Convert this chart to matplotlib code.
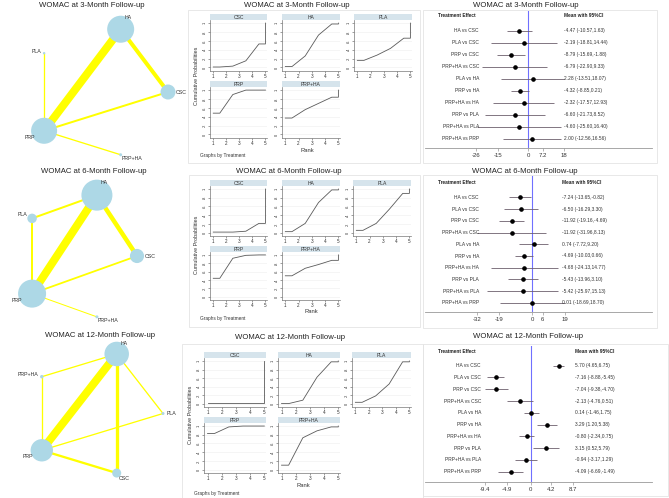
import numpy as np
import matplotlib
matplotlib.use("Agg")
import matplotlib.pyplot as plt
from matplotlib.patches import Rectangle, Circle

plt.rcParams['font.family'] = ['Liberation Sans', 'DejaVu Sans']

W, H, DPI = 669, 498, 100

# ---------------- data ----------------
titles = ["WOMAC at 3-Month Follow-up", "WOMAC at 6-Month Follow-up", "WOMAC at 12-Month Follow-up"]
treatments = ["CSC", "HA", "PLA", "PRP", "PRP+HA"]

# network: node order around the pentagon (clockwise from the right)
net_order_3m = ["CSC", "PRP+HA", "PRP", "PLA", "HA"]
net_order_6m = ["CSC", "PRP+HA", "PRP", "PLA", "HA"]
net_order_12m = ["PLA", "CSC", "PRP", "PRP+HA", "HA"]
# node weights (same order as treatments)
node_w_3m = [225, 729, 6, 676, 9]
node_w_6m = [200, 961, 90, 784, 9]
node_w_12m = [81, 600, 9, 500, 12]
# edges (a, b, weight)
edges_3m = [("HA", "PRP", 8), ("HA", "CSC", 4), ("PRP", "CSC", 2), ("PRP", "PLA", 1.3), ("PRP", "PRP+HA", 1.3)]
edges_6m = [("HA", "PRP", 8), ("HA", "CSC", 4.5), ("HA", "PLA", 2), ("PLA", "PRP", 2),
            ("PRP", "CSC", 1.8), ("PRP", "PRP+HA", 1)]
edges_12m = [("HA", "PRP", 8), ("HA", "CSC", 3.3), ("PRP", "CSC", 2.3), ("HA", "PLA", 1.3),
             ("PRP", "PLA", 1.3), ("HA", "PRP+HA", 1.3), ("PRP+HA", "PRP", 1.3)]

# cumulative ranking probabilities at ranks 1..5
cum_3m = {"CSC": [0.01, 0.03, 0.15, 0.53, 1.0], "HA": [0.02, 0.26, 0.73, 0.98, 1.0],
          "PLA": [0.16, 0.28, 0.43, 0.66, 1.0], "PRP": [0.48, 0.90, 1.0, 1.0, 1.0],
          "PRP+HA": [0.37, 0.56, 0.70, 0.84, 1.0]}
cum_6m = {"CSC": [0.01, 0.01, 0.03, 0.21, 1.0], "HA": [0.02, 0.21, 0.69, 0.98, 1.0],
          "PLA": [0.05, 0.21, 0.54, 0.90, 1.0], "PRP": [0.44, 0.92, 0.99, 1.0, 1.0],
          "PRP+HA": [0.50, 0.68, 0.77, 0.87, 1.0]}
cum_12m = {"CSC": [0.005, 0.005, 0.005, 0.005, 1.0], "HA": [0.0, 0.08, 0.62, 0.98, 1.0],
           "PLA": [0.03, 0.18, 0.46, 0.98, 1.0], "PRP": [0.83, 0.98, 1.0, 1.0, 1.0],
           "PRP+HA": [0.10, 0.73, 0.89, 0.98, 1.0]}
ranks = [1, 2, 3, 4, 5]

# forest plot
comparisons = ["HA vs CSC", "PLA vs CSC", "PRP vs CSC", "PRP+HA vs CSC", "PLA vs HA", "PRP vs HA",
               "PRP+HA vs HA", "PRP vs PLA", "PRP+HA vs PLA", "PRP+HA vs PRP"]
mean_3m = [-4.47, -2.19, -8.79, -6.79, 2.28, -4.32, -2.32, -6.60, -4.60, 2.00]
low_3m = [-10.57, -18.81, -15.69, -22.90, -13.51, -8.85, -17.57, -21.73, -25.60, -12.56]
high_3m = [1.63, 14.44, -1.88, 9.33, 18.07, 0.21, 12.93, 8.52, 16.40, 16.56]
mean_6m = [-7.24, -6.50, -11.92, -11.92, 0.74, -4.69, -4.68, -5.43, -5.42, 0.01]
low_6m = [-13.65, -16.29, -19.16, -31.96, -7.72, -10.03, -24.13, -13.96, -25.97, -18.69]
high_6m = [-0.82, 3.30, -4.69, 8.13, 9.20, 0.66, 14.77, 3.10, 15.13, 18.70]
mean_12m = [5.70, -7.16, -7.04, -2.13, 0.14, 3.29, -0.80, 3.15, -0.94, -4.09]
low_12m = [4.65, -8.88, -9.38, -4.76, -1.46, 1.20, -2.34, 0.52, -3.17, -6.69]
high_12m = [6.75, -5.45, -4.70, 0.51, 1.75, 5.38, 0.75, 5.79, 1.29, -1.49]
xticks_3m = [-26, -15, 0, 7.2, 18]
xticks_6m = [-32, -19, 0, 6, 19]
xticks_12m = [-9.4, -4.9, 0, 4.2, 8.7]

# ---------------- figure ----------------
fig = plt.figure(figsize=(W / DPI, H / DPI), dpi=DPI)
fig.patch.set_facecolor("white")

def px_axes(x0, y0, x1, y1, **kw):
    return fig.add_axes([x0 / W, 1 - y1 / H, (x1 - x0) / W, (y1 - y0) / H], **kw)

ov = px_axes(0, 0, W, H, zorder=0)
ov.set_xlim(0, W)
ov.set_ylim(H, 0)
ov.axis("off")

TFS = 5.6
BORDER = "#e4e4e4"

# ---------------- network plots ----------------
def network(order, weights, edges, cx, cy, rx, ry, title, tx, ty):
    ang = np.deg2rad(np.arange(5) * 72.0)
    pos = {t: (cx + rx * np.cos(a), cy + ry * np.sin(a)) for t, a in zip(order, ang)}
    dirs = {t: (np.cos(a), np.sin(a)) for t, a in zip(order, ang)}
    for a, b, w in edges:
        ov.plot([pos[a][0], pos[b][0]], [pos[a][1], pos[b][1]], color="#ffff00",
                lw=w * 0.72, solid_capstyle="butt", zorder=1)
    for t, n in zip(treatments, weights):
        d = np.sqrt(n)
        x, y = pos[t]
        ov.add_patch(Circle((x, y), d / 2, facecolor="#add8e6", edgecolor="none", zorder=2))
        cxd, syd = dirs[t]
        off = d / 2 * 0.7 + 2.5
        ha = "left" if cxd > 0.1 else ("right" if cxd < -0.1 else "center")
        ov.text(x + off * cxd, y + off * syd, t, fontsize=3.8, ha=ha, va="center",
                color="#333333", zorder=3)
    ov.text(tx, ty, title, fontsize=TFS, ha="center", va="center", color="#222222")

network(net_order_3m, node_w_3m, edges_3m, 99.5, 92, 68.5, 66, titles[0], 92, 5)
network(net_order_6m, node_w_6m, edges_6m, 79, 256, 58, 64, titles[1], 94, 171)
network(net_order_12m, node_w_12m, edges_12m, 96, 413.5, 67, 62.6, titles[2], 100, 335.5)

# ---------------- rankograms ----------------
STRIP = "#d6e4ec"
LINEC = "#5a5a5a"

def rankogram(cum, cols, rows, box, title, tx, ty, ylab_xy, rank_xy, gbt_xy):
    ov.add_patch(Rectangle((box[0], box[1]), box[2] - box[0], box[3] - box[1],
                           fill=False, edgecolor=BORDER, lw=0.6, zorder=0))
    ov.text(tx, ty, title, fontsize=TFS, ha="center", va="center", color="#222222")
    for i, t in enumerate(treatments):
        r, c = divmod(i, 3)
        st, sb, pb = rows[r]
        x0, x1 = cols[c]
        ax = px_axes(x0, sb, x1, pb, zorder=2)
        v = cum[t]
        xs = [ranks[0], ranks[0] + 0.5, ranks[1] + 0.5, ranks[2] + 0.5, ranks[3] + 0.5, ranks[4], ranks[4]]
        ys = [v[0], v[0], v[1], v[2], v[3], v[3], v[4]]
        ax.plot(xs, ys, color=LINEC, lw=0.6)
        ax.set_xlim(0.75, 5.12)
        ax.set_ylim(-0.08, 1.07)
        ax.set_xticks(ranks)
        ax.set_xticklabels([str(k) for k in ranks], fontsize=3.3, color="#333333")
        yt = [0, 0.2, 0.4, 0.6, 0.8, 1.0]
        ax.set_yticks(yt)
        ax.set_yticklabels(["0", ".2", ".4", ".6", ".8", "1"], fontsize=2.9, rotation=90,
                           va="center", color="#333333")
        ax.tick_params(length=1.5, width=0.4, pad=1, colors="#555555", labelcolor="#333333")
        ax.grid(axis="y", color="#eeeeee", lw=0.4)
        for s in ["top", "right"]:
            ax.spines[s].set_visible(False)
        for s in ["left", "bottom"]:
            ax.spines[s].set_color("#777777")
            ax.spines[s].set_linewidth(0.5)
        ax.set_axisbelow(True)
        ov.add_patch(Rectangle((x0, st), x1 - x0, sb - st, facecolor=STRIP, edgecolor="none", zorder=1))
        ov.text((x0 + x1) / 2, (st + sb) / 2, t, fontsize=3.6, ha="center", va="center", color="#333333", zorder=2)
    ov.text(ylab_xy[0], ylab_xy[1], "Cumulative Probabilities", fontsize=3.9, rotation=90,
            ha="center", va="center", color="#333333")
    ov.text(rank_xy[0], rank_xy[1], "Rank", fontsize=4.2, ha="center", va="center", color="#333333")
    ov.text(gbt_xy[0], gbt_xy[1], "Graphs by Treatment", fontsize=3.4, ha="left", va="center", color="#333333")

rankogram(cum_3m, [(210, 267), (282, 340), (354, 412)], [(14, 20, 71), (81, 87, 138)],
          (188, 10, 420, 163), titles[0], 297, 5, (197, 76), (307, 150), (200, 155))
rankogram(cum_6m, [(210, 267), (282, 340), (353, 411)], [(180, 186, 236), (246, 252, 300)],
          (189, 175, 420, 327), titles[1], 289, 171, (197, 245), (311, 311), (200, 318))
rankogram(cum_12m, [(204, 266), (278, 340), (352, 411)], [(352, 358, 407), (417, 423, 473)],
          (182, 344, 423, 499), titles[2], 290, 337, (191, 415), (303, 485), (194, 493))

# ---------------- forest plots ----------------
CIC = "#6d5f6d"

def forest(mean, low, high, ticks, x0p, s, top, row0, sp, axis_y, header_y, lab_r, val_l,
           box, title, tx, ty):
    ov.add_patch(Rectangle((box[0], box[1]), box[2] - box[0], box[3] - box[1],
                           fill=False, edgecolor=BORDER, lw=0.6, zorder=0))
    ov.text(tx, ty, title, fontsize=TFS, ha="center", va="center", color="#222222")
    L, R = 425, 652
    ax = px_axes(L, top, R, axis_y, zorder=2)
    ax.patch.set_alpha(0)
    ax.set_xlim((L - x0p) / s, (R - x0p) / s)
    ax.set_ylim((axis_y - row0) / sp, (top - row0) / sp)
    y = np.arange(len(comparisons))
    ax.axvline(0, color="#7070ff", lw=0.8, zorder=1)
    ax.hlines(y, low, high, color=CIC, lw=0.6, zorder=2)
    ax.plot(mean, y, "o", color="black", ms=2.3, zorder=3)
    for sp_ in ["top", "right", "left"]:
        ax.spines[sp_].set_visible(False)
    ax.spines["bottom"].set_color("#999999")
    ax.spines["bottom"].set_linewidth(0.6)
    ax.set_yticks([])
    ax.set_xticks(ticks)
    ax.set_xticklabels([f"{t:g}" for t in ticks], fontsize=4.3, color="#333333")
    ax.tick_params(axis="x", length=2, width=0.5, pad=1.5, colors="#999999", labelcolor="#333333")
    hy = (header_y - row0) / sp
    lx = (lab_r - x0p) / s
    vx = (val_l - x0p) / s
    hx = (438 - x0p) / s
    ax.text(hx, hy, "Treatment Effect", fontsize=3.4, fontweight="bold", ha="left", va="center", color="#222222")
    ax.text(vx, hy, "Mean with 95%CI", fontsize=3.4, fontweight="bold", ha="left", va="center", color="#222222")
    for i, c in enumerate(comparisons):
        ax.text(lx, i, c, fontsize=3.5, ha="right", va="center", color="#333333")
        ax.text(vx, i, f"{mean[i]:.2f} ({low[i]:.2f},{high[i]:.2f})", fontsize=3.5,
                ha="left", va="center", color="#333333")

forest(mean_3m, low_3m, high_3m, xticks_3m, 528.3, 2.0, 11, 30.7, 12.0, 148, 15.5, 479, 564,
       (423, 10, 657, 163), titles[0], 526, 5)
forest(mean_6m, low_6m, high_6m, xticks_6m, 532.3, 1.73, 176, 197.3, 11.74, 311.7, 182.3, 479, 562,
       (423, 175, 657, 328), titles[1], 525, 171)
forest(mean_12m, low_12m, high_12m, xticks_12m, 530.7, 4.9, 346, 365.7, 11.78, 481.7, 351.7, 481, 575,
       (423, 344, 668, 496), titles[2], 528, 336)

fig.savefig("out.png", dpi=DPI, facecolor="white")
